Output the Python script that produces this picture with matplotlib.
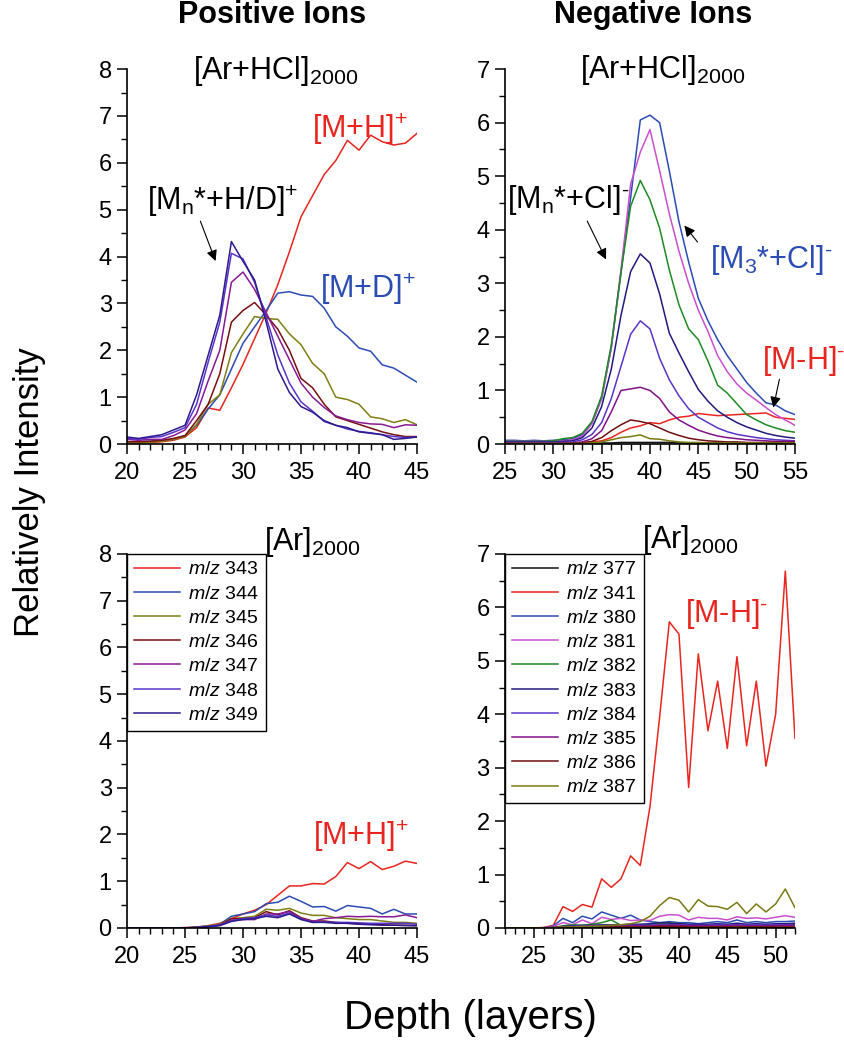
import numpy as np
import matplotlib
matplotlib.use('Agg')
import matplotlib.pyplot as plt
from matplotlib.ticker import MultipleLocator

plt.rcParams['font.family'] = ['Liberation Sans', 'DejaVu Sans']
plt.rcParams['mathtext.fontset'] = 'custom'
plt.rcParams['mathtext.rm'] = 'Liberation Sans'
plt.rcParams['mathtext.it'] = 'Liberation Sans:italic'
plt.rcParams['mathtext.bf'] = 'Liberation Sans:bold'

# ---- data ----
depth_pos = list(range(20, 46))     # positive ions, both panels
depth_neg_hcl = list(range(25, 56))  # negative ions, Ar+HCl
depth_neg_ar = list(range(22, 53))   # negative ions, Ar

pos_labels = ['343', '344', '345', '346', '347', '348', '349']
pos_colors = ['#e8251f', '#2b4cb3', '#7f7f14', '#781010', '#881a92', '#5a34c8', '#2c1a8e']

hcl_343 = [0.03, 0.02, 0.03, 0.05, 0.08, 0.15, 0.35, 0.77, 0.72, 1.2, 1.7, 2.25, 2.8, 3.4, 4.1, 4.85,
           5.3, 5.75, 6.05, 6.48, 6.27, 6.59, 6.45, 6.38, 6.42, 6.63]
hcl_344 = [0.05, 0.05, 0.06, 0.08, 0.1, 0.18, 0.4, 0.75, 1.05, 1.6, 2.15, 2.5, 2.85, 3.22, 3.25, 3.18,
           3.15, 2.9, 2.5, 2.3, 2.05, 1.98, 1.69, 1.62, 1.47, 1.32]
hcl_345 = [0.03, 0.03, 0.04, 0.06, 0.1, 0.16, 0.42, 0.85, 1.05, 1.95, 2.35, 2.72, 2.68, 2.66, 2.35, 2.12,
           1.72, 1.5, 1.0, 0.95, 0.85, 0.58, 0.54, 0.46, 0.52, 0.41]
hcl_346 = [0.05, 0.05, 0.06, 0.08, 0.12, 0.18, 0.5, 0.85, 1.5, 2.6, 2.85, 3.02, 2.75, 2.45, 2.0, 1.4,
           1.2, 0.85, 0.58, 0.5, 0.42, 0.34, 0.26, 0.2, 0.16, 0.16]
hcl_347 = [0.1, 0.08, 0.1, 0.1, 0.18, 0.3, 0.65, 1.35, 2.0, 3.45, 3.67, 3.3, 2.8, 2.3, 1.8, 1.3,
           1.0, 0.78, 0.6, 0.52, 0.46, 0.43, 0.42, 0.35, 0.41, 0.4]
hcl_348 = [0.12, 0.1, 0.14, 0.16, 0.25, 0.35, 0.85, 1.75, 2.6, 4.07, 3.95, 3.45, 2.7, 1.9, 1.3, 0.9,
           0.7, 0.48, 0.4, 0.32, 0.27, 0.24, 0.2, 0.16, 0.14, 0.15]
hcl_349 = [0.15, 0.12, 0.16, 0.2, 0.3, 0.4, 1.05, 1.9, 2.75, 4.32, 3.9, 3.5, 2.6, 1.6, 1.1, 0.8,
           0.68, 0.5, 0.4, 0.35, 0.26, 0.23, 0.2, 0.1, 0.12, 0.15]

ar_343 = [0, 0, 0, 0, 0, 0.01, 0.02, 0.05, 0.1, 0.2, 0.3, 0.38, 0.5, 0.7, 0.9, 0.9,
          0.95, 0.94, 1.1, 1.4, 1.27, 1.42, 1.25, 1.32, 1.43, 1.38]
ar_344 = [0, 0, 0, 0, 0, 0, 0.02, 0.04, 0.08, 0.25, 0.3, 0.35, 0.52, 0.55, 0.68, 0.57,
          0.45, 0.46, 0.36, 0.48, 0.45, 0.42, 0.3, 0.4, 0.3, 0.3]
ar_345 = [0, 0, 0, 0, 0, 0, 0.02, 0.04, 0.08, 0.2, 0.22, 0.25, 0.4, 0.38, 0.42, 0.32,
          0.27, 0.27, 0.22, 0.2, 0.18, 0.18, 0.15, 0.12, 0.12, 0.1]
ar_346 = [0, 0, 0, 0, 0, 0, 0.01, 0.03, 0.06, 0.2, 0.2, 0.22, 0.35, 0.28, 0.37, 0.22,
          0.15, 0.15, 0.12, 0.1, 0.09, 0.08, 0.07, 0.06, 0.06, 0.05]
ar_347 = [0, 0, 0, 0, 0, 0, 0.01, 0.03, 0.06, 0.17, 0.18, 0.18, 0.3, 0.3, 0.35, 0.2,
          0.14, 0.2, 0.22, 0.25, 0.24, 0.25, 0.24, 0.24, 0.28, 0.22]
ar_348 = [0, 0, 0, 0, 0, 0, 0.01, 0.03, 0.06, 0.15, 0.2, 0.22, 0.28, 0.25, 0.32, 0.2,
          0.12, 0.13, 0.12, 0.12, 0.11, 0.1, 0.1, 0.1, 0.1, 0.08]
ar_349 = [0, 0, 0, 0, 0, 0, 0.01, 0.03, 0.05, 0.14, 0.18, 0.2, 0.25, 0.22, 0.3, 0.18,
          0.12, 0.12, 0.1, 0.1, 0.08, 0.07, 0.06, 0.06, 0.05, 0.05]

neg_labels = ['377', '341', '380', '381', '382', '383', '384', '385', '386', '387']
neg_colors = ['#111111', '#e8251f', '#2b4cb3', '#c94fcc', '#1f8a22', '#221a7e',
              '#5a34c8', '#7f1189', '#701010', '#7a7a12']

hcl_377 = [0.02, 0.02, 0.02, 0.02, 0.02, 0.02, 0.02, 0.02, 0.02, 0.02, 0.02, 0.02, 0.03, 0.03, 0.03, 0.03,
           0.03, 0.03, 0.02, 0.02, 0.02, 0.02, 0.02, 0.02, 0.02, 0.02, 0.02, 0.02, 0.02, 0.02, 0.02]
hcl_341 = [0.02, 0.02, 0.02, 0.02, 0.02, 0.02, 0.02, 0.02, 0.03, 0.04, 0.06, 0.12, 0.22, 0.3, 0.34, 0.4,
           0.38, 0.45, 0.5, 0.52, 0.57, 0.55, 0.53, 0.54, 0.55, 0.56, 0.57, 0.58, 0.5, 0.48, 0.46]
hcl_380 = [0.07, 0.07, 0.06, 0.07, 0.06, 0.07, 0.08, 0.1, 0.18, 0.4, 0.85, 1.8, 3.2, 4.6, 6.05, 6.14,
           6.0, 5.1, 4.15, 3.4, 2.72, 2.3, 1.95, 1.65, 1.4, 1.15, 0.95, 0.77, 0.73, 0.62, 0.55]
hcl_381 = [0.05, 0.05, 0.05, 0.05, 0.05, 0.05, 0.06, 0.08, 0.15, 0.38, 0.85, 1.8, 3.25, 4.85, 5.45, 5.87,
           5.1, 4.3, 3.6, 3.0, 2.5, 2.1, 1.65, 1.35, 1.12, 0.95, 0.82, 0.68, 0.55, 0.45, 0.35]
hcl_382 = [0.05, 0.05, 0.05, 0.05, 0.05, 0.06, 0.1, 0.12, 0.2, 0.42, 0.9, 1.85, 3.2, 4.44, 4.92, 4.56,
           4.03, 3.25, 2.6, 2.15, 1.95, 1.55, 1.1, 0.95, 0.75, 0.55, 0.45, 0.36, 0.3, 0.25, 0.22]
hcl_383 = [0.04, 0.04, 0.04, 0.04, 0.04, 0.04, 0.05, 0.06, 0.12, 0.3, 0.7, 1.4, 2.4, 3.22, 3.55, 3.38,
           2.8, 2.07, 1.7, 1.35, 1.02, 0.8, 0.62, 0.5, 0.4, 0.32, 0.26, 0.2, 0.16, 0.13, 0.11]
hcl_384 = [0.03, 0.03, 0.03, 0.03, 0.03, 0.03, 0.03, 0.04, 0.08, 0.18, 0.4, 0.85, 1.45, 2.05, 2.3, 2.15,
           1.6, 1.2, 0.9, 0.66, 0.5, 0.4, 0.3, 0.23, 0.18, 0.15, 0.12, 0.1, 0.08, 0.07, 0.06]
hcl_385 = [0.02, 0.02, 0.02, 0.02, 0.02, 0.02, 0.02, 0.02, 0.04, 0.1, 0.25, 0.6, 1.0, 1.03, 1.06, 1.0,
           0.85, 0.6, 0.45, 0.35, 0.26, 0.2, 0.15, 0.12, 0.1, 0.08, 0.07, 0.06, 0.05, 0.05, 0.05]
hcl_386 = [0.01, 0.01, 0.01, 0.01, 0.01, 0.01, 0.01, 0.02, 0.02, 0.05, 0.12, 0.25, 0.36, 0.45, 0.42, 0.38,
           0.3, 0.22, 0.16, 0.11, 0.08, 0.06, 0.05, 0.04, 0.04, 0.03, 0.03, 0.03, 0.03, 0.03, 0.03]
hcl_387 = [0.01, 0.01, 0.01, 0.01, 0.01, 0.01, 0.01, 0.01, 0.01, 0.02, 0.04, 0.08, 0.12, 0.14, 0.17, 0.1,
           0.09, 0.06, 0.04, 0.03, 0.03, 0.02, 0.02, 0.02, 0.02, 0.02, 0.02, 0.02, 0.02, 0.02, 0.02]

ar_377 = [0, 0, 0, 0, 0, 0, 0.01, 0.01, 0.01, 0.01, 0.01, 0.01, 0.01, 0.01, 0.01, 0.01,
          0.01, 0.01, 0.01, 0.01, 0.01, 0.01, 0.01, 0.01, 0.01, 0.01, 0.01, 0.01, 0.01, 0.01, 0.01]
ar_341 = [0, 0, 0, 0, 0.01, 0.05, 0.4, 0.31, 0.44, 0.39, 0.92, 0.76, 0.92, 1.35, 1.17, 2.27,
          3.95, 5.73, 5.5, 2.63, 5.13, 3.69, 4.62, 3.36, 5.08, 3.41, 4.62, 3.03, 4.0, 6.68, 3.55]
ar_380 = [0, 0, 0, 0, 0, 0.04, 0.18, 0.1, 0.22, 0.17, 0.3, 0.24, 0.18, 0.24, 0.15, 0.12,
          0.1, 0.12, 0.1, 0.1, 0.08, 0.1, 0.12, 0.1, 0.15, 0.1, 0.12, 0.1, 0.12, 0.12, 0.13]
ar_381 = [0, 0, 0, 0, 0, 0.03, 0.1, 0.06, 0.15, 0.08, 0.2, 0.16, 0.18, 0.14, 0.15, 0.14,
          0.22, 0.25, 0.24, 0.15, 0.2, 0.18, 0.18, 0.15, 0.21, 0.18, 0.19, 0.17, 0.2, 0.23, 0.2]
ar_382 = [0, 0, 0, 0, 0, 0.01, 0.04, 0.06, 0.05, 0.07, 0.1, 0.15, 0.05, 0.06, 0.06, 0.07,
          0.08, 0.1, 0.08, 0.06, 0.06, 0.05, 0.05, 0.05, 0.05, 0.05, 0.05, 0.05, 0.05, 0.05, 0.05]
ar_383 = [0, 0, 0, 0, 0, 0.01, 0.03, 0.04, 0.05, 0.05, 0.06, 0.06, 0.06, 0.07, 0.07, 0.08,
          0.1, 0.09, 0.08, 0.07, 0.07, 0.07, 0.08, 0.07, 0.09, 0.07, 0.08, 0.07, 0.08, 0.08, 0.09]
ar_384 = [0, 0, 0, 0, 0, 0.01, 0.02, 0.03, 0.04, 0.04, 0.05, 0.05, 0.05, 0.05, 0.05, 0.05,
          0.06, 0.06, 0.06, 0.05, 0.05, 0.05, 0.06, 0.05, 0.06, 0.05, 0.06, 0.05, 0.06, 0.06, 0.06]
ar_385 = [0, 0, 0, 0, 0, 0.01, 0.02, 0.02, 0.03, 0.03, 0.04, 0.04, 0.04, 0.04, 0.04, 0.04,
          0.05, 0.05, 0.05, 0.04, 0.04, 0.04, 0.04, 0.04, 0.05, 0.04, 0.04, 0.04, 0.04, 0.05, 0.05]
ar_386 = [0, 0, 0, 0, 0, 0, 0.01, 0.01, 0.02, 0.02, 0.02, 0.02, 0.02, 0.02, 0.02, 0.02,
          0.03, 0.03, 0.03, 0.02, 0.02, 0.02, 0.02, 0.02, 0.02, 0.02, 0.02, 0.02, 0.02, 0.02, 0.02]
ar_387 = [0, 0, 0, 0, 0, 0.01, 0.02, 0.02, 0.03, 0.03, 0.04, 0.05, 0.06, 0.08, 0.12, 0.22,
          0.42, 0.57, 0.52, 0.3, 0.53, 0.41, 0.4, 0.35, 0.48, 0.27, 0.45, 0.3, 0.45, 0.73, 0.38]

pos_hcl = [hcl_343, hcl_344, hcl_345, hcl_346, hcl_347, hcl_348, hcl_349]
pos_ar = [ar_343, ar_344, ar_345, ar_346, ar_347, ar_348, ar_349]
neg_hcl = [hcl_377, hcl_341, hcl_380, hcl_381, hcl_382, hcl_383, hcl_384, hcl_385, hcl_386, hcl_387]
neg_ar = [ar_377, ar_341, ar_380, ar_381, ar_382, ar_383, ar_384, ar_385, ar_386, ar_387]


def style_axes(ax, xlim, ylim, xticks):
    ax.set_xlim(*xlim)
    ax.set_ylim(*ylim)
    ax.set_xticks(xticks)
    ax.set_yticks(range(ylim[0], ylim[1] + 1))
    ax.xaxis.set_minor_locator(MultipleLocator(1))
    ax.yaxis.set_minor_locator(MultipleLocator(0.5))
    for s in ['top', 'right']:
        ax.spines[s].set_visible(False)
    for s in ['left', 'bottom']:
        ax.spines[s].set_linewidth(1.2)
    ax.tick_params(which='major', direction='out', length=7, width=1.1, labelsize=17, pad=4)
    ax.tick_params(which='minor', direction='out', length=4.3, width=1.0)
    ax.tick_params(axis='x', which='major', pad=6)
    ax.patch.set_alpha(0)


fig = plt.figure(figsize=(8.45, 10.5), dpi=100)
ax_tl = fig.add_axes([0.1503, 0.5771, 0.3432, 0.3571])
ax_tr = fig.add_axes([0.5976, 0.5771, 0.3432, 0.3571])
ax_bl = fig.add_axes([0.1503, 0.1162, 0.3432, 0.3562])
ax_br = fig.add_axes([0.5976, 0.1162, 0.3432, 0.3562])

lw = 1.1
for ys, c, lab in zip(pos_hcl, pos_colors, pos_labels):
    ax_tl.plot(depth_pos, ys, color=c, lw=lw)
for ys, c, lab in zip(pos_ar, pos_colors, pos_labels):
    ax_bl.plot(depth_pos, ys, color=c, lw=lw, label='$m/z$ ' + lab)
for ys, c, lab in zip(neg_hcl, neg_colors, neg_labels):
    ax_tr.plot(depth_neg_hcl, ys, color=c, lw=lw)
for ys, c, lab in zip(neg_ar, neg_colors, neg_labels):
    ax_br.plot(depth_neg_ar, ys, color=c, lw=lw, label='$m/z$ ' + lab)

style_axes(ax_tl, (20, 45), (0, 8), range(20, 46, 5))
style_axes(ax_tr, (25, 55), (0, 7), range(25, 56, 5))
style_axes(ax_bl, (20, 45), (0, 8), range(20, 46, 5))
style_axes(ax_br, (22, 52), (0, 7), range(25, 51, 5))

for ax in [ax_bl, ax_br]:
    leg = ax.legend(loc='upper left', bbox_to_anchor=(0, 1), borderaxespad=0, fontsize=14,
                    handlelength=2.4, handletextpad=0.4, labelspacing=0.34, borderpad=0.35,
                    fancybox=False, framealpha=1)
    leg.get_frame().set_edgecolor('black')
    leg.get_frame().set_linewidth(1.0)

fs = 22
red = '#e8251f'
blue = '#2b4cb3'
arrow = dict(arrowstyle='-|>', color='black', lw=0.8, mutation_scale=16)

# panel titles
ax_tl.text(32.8, 7.78, '[Ar+HCl]$_{2000}$', ha='center', va='baseline', fontsize=fs)
ax_tr.text(41.3, 6.83, '[Ar+HCl]$_{2000}$', ha='center', va='baseline', fontsize=fs)
ax_bl.text(36.0, 8.09, '[Ar]$_{2000}$', ha='center', va='baseline', fontsize=fs, clip_on=False)
ax_br.text(41.2, 7.11, '[Ar]$_{2000}$', ha='center', va='baseline', fontsize=fs, clip_on=False)

# annotations
ax_tl.text(35.95, 6.53, r'[M+H]$^{+}$', color=red, ha='left', va='baseline', fontsize=fs)
ax_tl.text(36.6, 3.11, r'[M+D]$^{+}$', color=blue, ha='left', va='baseline', fontsize=fs)
ax_tl.text(21.7, 4.99, r'[M$_{\mathrm{n}}$*+H/D]$^{+}$', ha='left', va='baseline', fontsize=fs)
ax_tl.annotate('', xy=(27.72, 3.85), xytext=(26.24, 4.81), arrowprops=arrow)

ax_tr.text(25.2, 4.4, r'[M$_{\mathrm{n}}$*+Cl]$^{\text{-}}$', ha='left', va='baseline', fontsize=fs)
ax_tr.annotate('', xy=(35.58, 3.40), xytext=(33.38, 4.21), arrowprops=arrow)
ax_tr.text(46.2, 3.28, r'[M$_{\mathrm{3}}$*+Cl]$^{\text{-}}$', color=blue, ha='left', va='baseline',
           fontsize=fs)
ax_tr.annotate('', xy=(43.38, 4.12), xytext=(45.1, 3.73), arrowprops=arrow)
ax_tr.text(51.6, 1.41, r'[M-H]$^{\text{-}}$', color=red, ha='left', va='baseline', fontsize=fs,
           clip_on=False)
ax_tr.annotate('', xy=(52.7, 0.63), xytext=(53.45, 1.26), arrowprops=arrow)

ax_bl.text(36.03, 1.78, r'[M+H]$^{+}$', color=red, ha='left', va='baseline', fontsize=fs)
ax_br.text(40.6, 5.73, r'[M-H]$^{\text{-}}$', color=red, ha='left', va='baseline', fontsize=fs)

# column headers and shared axis labels
fig.text(272 / 845, 1 - 23 / 1050, 'Positive Ions', ha='center', va='baseline',
         fontsize=22, fontweight='bold')
fig.text(653 / 845, 1 - 23 / 1050, 'Negative Ions', ha='center', va='baseline',
         fontsize=22, fontweight='bold')
fig.text(30 / 845, 1 - 492 / 1050, 'Relatively Intensity', rotation=90, ha='center',
         va='center', fontsize=25)
fig.text(470 / 845, 1 - 1018 / 1050, 'Depth (layers)', ha='center', va='center', fontsize=29)

fig.savefig('out.png', dpi=100)
